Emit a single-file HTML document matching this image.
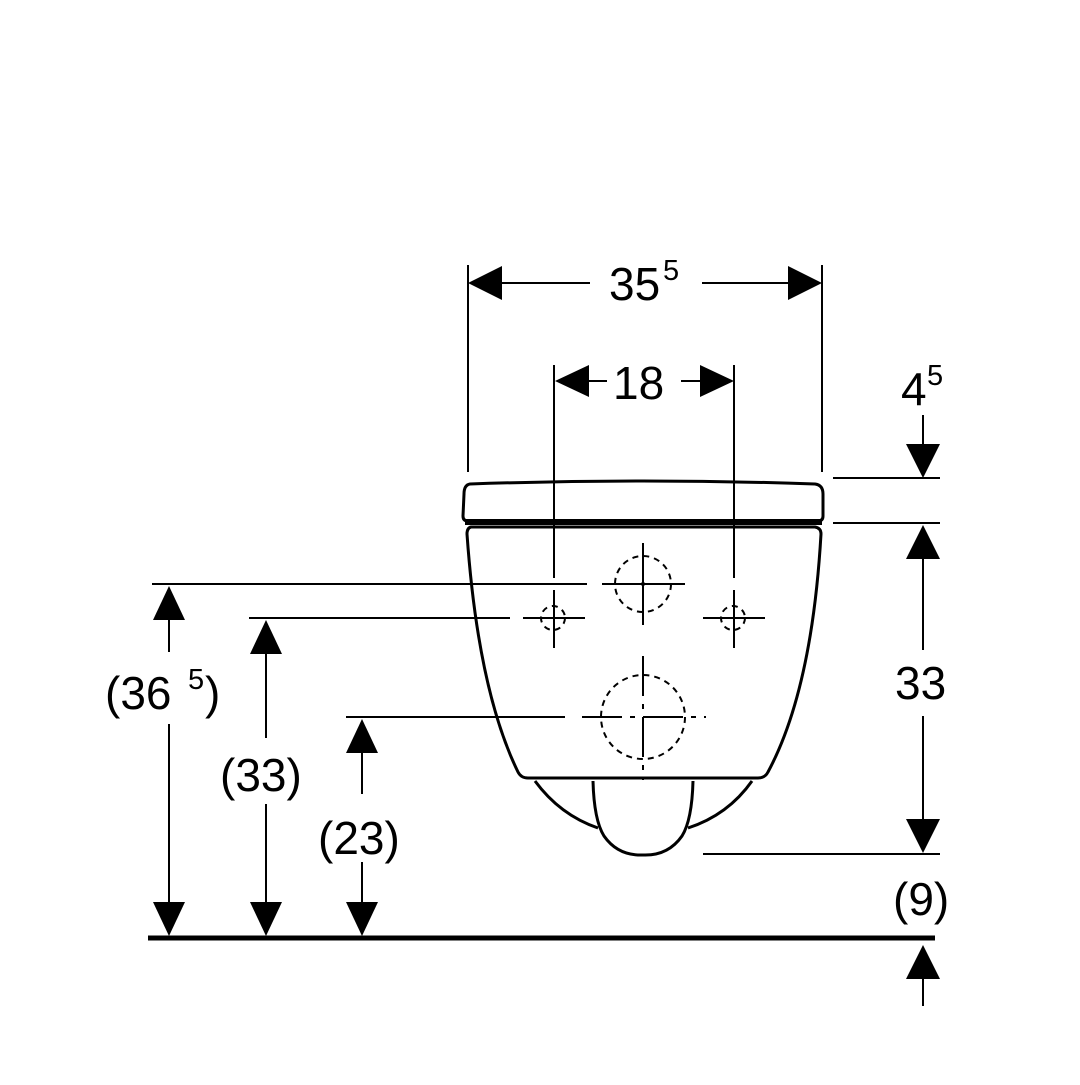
<!DOCTYPE html>
<html><head><style>html,body{margin:0;padding:0;background:#fff}</style></head>
<body>
<svg width="1080" height="1080" viewBox="0 0 1080 1080" xmlns="http://www.w3.org/2000/svg" font-family="Liberation Sans, Arial, sans-serif" fill="none" stroke="#000">
<rect width="1080" height="1080" fill="#fff" stroke="none"/>
<g stroke-width="2">
<line x1="468" y1="265" x2="468" y2="472"/><line x1="822" y1="265" x2="822" y2="472"/>
<line x1="500" y1="283" x2="590" y2="283"/><line x1="702" y1="283" x2="790" y2="283"/>
<line x1="554" y1="365" x2="554" y2="578"/><line x1="734" y1="365" x2="734" y2="578"/>
<line x1="588" y1="381" x2="607" y2="381"/><line x1="681" y1="381" x2="702" y2="381"/>
<line x1="554" y1="590" x2="554" y2="648"/><line x1="734" y1="590" x2="734" y2="648"/>
<line x1="923" y1="415" x2="923" y2="446"/>
<line x1="833" y1="478" x2="940" y2="478"/><line x1="833" y1="523" x2="940" y2="523"/>
<line x1="923" y1="556" x2="923" y2="650"/><line x1="923" y1="716" x2="923" y2="822"/>
<line x1="703" y1="854" x2="940" y2="854"/>
<line x1="923" y1="976" x2="923" y2="1006"/>
<line x1="152" y1="584" x2="587" y2="584"/>
<line x1="169" y1="617" x2="169" y2="652"/><line x1="169" y1="724" x2="169" y2="904"/>
<line x1="249" y1="618" x2="510" y2="618"/>
<line x1="266" y1="651" x2="266" y2="738"/><line x1="266" y1="804" x2="266" y2="904"/>
<line x1="346" y1="717" x2="565" y2="717"/>
<line x1="362" y1="750" x2="362" y2="794"/><line x1="362" y1="862" x2="362" y2="904"/>
<line x1="602" y1="584" x2="685" y2="584"/><line x1="643" y1="543" x2="643" y2="625"/>
<line x1="523" y1="618" x2="585" y2="618"/><line x1="703" y1="618" x2="765" y2="618"/>
<line x1="582" y1="717" x2="706" y2="717" stroke-dasharray="40,8,5,8"/>
<line x1="643" y1="656" x2="643" y2="780" stroke-dasharray="40,8,5,8"/>
</g>
<g stroke-width="2" stroke-dasharray="6,5">
<circle cx="643" cy="584" r="28"/>
<circle cx="553" cy="618" r="12"/><circle cx="733" cy="618" r="12"/>
<circle cx="643" cy="717" r="42"/>
</g>
<circle cx="643" cy="584" r="2" fill="#000" stroke="none"/>
<g stroke-width="3" stroke-linejoin="round">
<path d="M470,484 Q643,478 815,484 Q823,485 823,494 L823,516 Q823,521 818,521 L468,521 Q463,521 463,516 L464,494 Q464,485 470,484 Z"/>
<path d="M471,527 L815,527 Q821,528 821,534 Q812,690 768,772 Q765,778 758,778 L528,778 Q521,778 518,772 Q478,690 467,534 Q467,528 471,527 Z"/>
<path d="M535,781 Q560,815 598,828"/><path d="M752,781 Q728,815 688,828"/>
<path d="M593,781 Q594,820 604,836 Q618,856 643,855 Q668,856 682,836 Q692,820 693,781"/>
</g>
<line x1="465" y1="522" x2="822" y2="522" stroke-width="6"/>
<line x1="148" y1="938" x2="935" y2="938" stroke-width="5"/>
<g fill="#000" stroke="none">
<polygon points="468,283 502,266 502,300"/><polygon points="822,283 788,266 788,300"/>
<polygon points="555,381 589,365 589,397"/><polygon points="734,381 700,365 700,397"/>
<polygon points="923,478 906,444 940,444"/>
<polygon points="923,525 906,559 940,559"/><polygon points="923,853 906,819 940,819"/>
<polygon points="923,945 906,979 940,979"/>
<polygon points="169,586 153,620 185,620"/><polygon points="169,936 153,902 185,902"/>
<polygon points="266,620 250,654 282,654"/><polygon points="266,936 250,902 282,902"/>
<polygon points="362,719 346,753 378,753"/><polygon points="362,936 346,902 378,902"/>
</g>
<g fill="#000" stroke="none" font-size="46">
<text x="609" y="300">35</text><text x="663" y="280" font-size="29">5</text>
<text x="613" y="399">18</text>
<text x="901" y="405">4</text><text x="927" y="385" font-size="29">5</text>
<text x="895" y="699">33</text>
<text x="893" y="915">(9)</text>
<text x="105" y="709">(36</text><text x="188" y="689" font-size="29">5</text><text x="205" y="709">)</text>
<text x="220" y="791">(33)</text>
<text x="318" y="854">(23)</text>
</g>
</svg>
</body></html>
